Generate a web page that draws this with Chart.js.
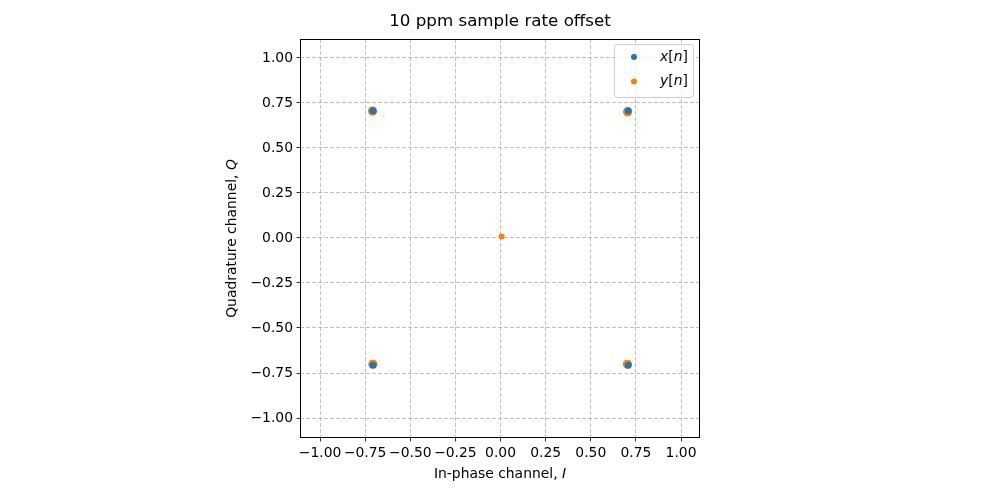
<!DOCTYPE html>
<html>
<head>
<meta charset="utf-8">
<script src="https://cdn.jsdelivr.net/npm/chart.js@4/dist/chart.umd.min.js"></script>
<style>
  html, body { margin: 0; padding: 0; background: #fff; }
  canvas { display: block; }
</style>
</head>
<body>
<canvas id="cvs" width="1000" height="500"></canvas>
<script>
/* data */
const xI = [-0.7071, 0.7071, -0.7071, 0.7071];
const xQ = [0.7071, 0.7071, -0.7071, -0.7071];

const yI = [
  -0.709, -0.700, -0.718, -0.7045, -0.7135, -0.7045, -0.7135,
   0.704,  0.713,  0.695,  0.7085,  0.6995,  0.7085,  0.6995,
  -0.707, -0.698, -0.716, -0.7025, -0.7115, -0.7025, -0.7115,
   0.703,  0.712,  0.694,  0.7075,  0.6985,  0.7075,  0.6985,
   0.006
];
const yQ = [
   0.705,  0.705,  0.705,  0.713,  0.713,  0.697,  0.697,
   0.701,  0.701,  0.701,  0.709,  0.709,  0.693,  0.693,
  -0.701, -0.701, -0.701, -0.693, -0.693, -0.709, -0.709,
  -0.701, -0.701, -0.701, -0.693, -0.693, -0.709, -0.709,
   0.008
];

const ticksI = [-1.00, -0.75, -0.50, -0.25, 0.00, 0.25, 0.50, 0.75, 1.00];
const ticksQ = [-1.00, -0.75, -0.50, -0.25, 0.00, 0.25, 0.50, 0.75, 1.00];

const titleText = '10 ppm sample rate offset';
// [text, italic]
const xTitle = [['In-phase channel, ', false], ['I', true]];
const yTitle = [['Quadrature channel, ', false], ['Q', true]];
const legendRows = [
  [['x', true], ['[', false], ['n', true], [']', false]],
  [['y', true], ['[', false], ['n', true], [']', false]]
];

/* helpers */
const FONT = '"DejaVu Sans", sans-serif';
const fmt = v => v.toFixed(2).replace('-', '\u2212');
const toPts = (a, b) => a.map((v, i) => ({ x: v, y: b[i] }));

const segWidth = (ctx, segs, size) => segs.reduce((w, [t, it]) => {
  ctx.font = `${it ? 'oblique ' : ''}${size}px ${FONT}`;
  return w + ctx.measureText(t).width;
}, 0);

const drawSegs = (ctx, segs, x, y, size) => {
  let cx = x;
  segs.forEach(([t, it]) => {
    ctx.font = `${it ? 'oblique ' : ''}${size}px ${FONT}`;
    ctx.fillText(t, cx, y);
    cx += ctx.measureText(t).width;
  });
};

const setTicks = vals => scale => { scale.ticks = vals.map(v => ({ value: v })); };

/* decorations: frame, titles, legend */
const decor = {
  id: 'decor',
  afterDatasetsDraw(chart) {
    const { ctx, chartArea: a } = chart;
    ctx.save();
    ctx.strokeStyle = '#000';
    ctx.lineWidth = 1;
    ctx.strokeRect(Math.round(a.left) + 0.5, Math.round(a.top) + 0.5,
      Math.round(a.right - a.left) - 1, Math.round(a.bottom - a.top) - 1);

    ctx.fillStyle = '#000';
    ctx.textBaseline = 'middle';
    ctx.textAlign = 'center';
    ctx.font = `16.7px ${FONT}`;
    ctx.fillText(titleText, (a.left + a.right) / 2, 22);

    ctx.textAlign = 'left';
    const fs = 13.9;
    let w = segWidth(ctx, xTitle, fs);
    drawSegs(ctx, xTitle, (a.left + a.right) / 2 - w / 2, 474, fs);

    ctx.save();
    ctx.translate(232, (a.top + a.bottom) / 2);
    ctx.rotate(-Math.PI / 2);
    w = segWidth(ctx, yTitle, fs);
    drawSegs(ctx, yTitle, -w / 2, 0, fs);
    ctx.restore();

    // legend
    const bx = 614, by = 44, bw = 79, bh = 53;
    ctx.beginPath();
    ctx.roundRect(bx + 0.5, by + 0.5, bw, bh, 3);
    ctx.fillStyle = 'rgba(255,255,255,0.8)';
    ctx.fill();
    ctx.strokeStyle = '#cccccc';
    ctx.stroke();
    legendRows.forEach((segs, i) => {
      const ry = 57 + i * 24.5;
      ctx.beginPath();
      ctx.arc(634, ry, 3, 0, Math.PI * 2);
      ctx.fillStyle = chart.data.datasets[i].backgroundColor;
      ctx.fill();
      ctx.fillStyle = '#000';
      drawSegs(ctx, segs, 660, ry, fs);
    });
    ctx.restore();
  }
};

const axisOpts = (vals, min, max) => ({
  type: 'linear', min, max,
  afterBuildTicks: setTicks(vals),
  grid: {
    color: '#b0b0b0', lineWidth: 0.8,
    tickColor: '#000', tickLength: 3.5, tickWidth: 0.8, tickBorderDash: []
  },
  border: { display: false, dash: [4, 2] },
  ticks: {
    color: '#000', padding: 3.5, autoSkip: false, maxRotation: 0,
    font: { family: FONT, size: 13.9 },
    callback: v => fmt(v)
  }
});

const xScale = axisOpts(ticksI, -1.111, 1.105);
xScale.afterFit = s => { s.height = 30; };
const yScale = axisOpts(ticksQ, -1.111, 1.105);
yScale.afterFit = s => { s.width = 50; };

new Chart(document.getElementById('cvs'), {
  type: 'scatter',
  data: {
    datasets: [
      { label: 'x[n]', data: toPts(xI, xQ), backgroundColor: '#1f77b4', borderWidth: 0, pointRadius: 3.5 },
      { label: 'y[n]', data: toPts(yI, yQ), backgroundColor: '#ff7f0e', borderWidth: 0, pointRadius: 3 }
    ]
  },
  options: {
    responsive: false, animation: false, devicePixelRatio: 1,
    layout: { padding: { left: 250, right: 300, top: 39, bottom: 32 } },
    plugins: { legend: { display: false }, tooltip: { enabled: false } },
    scales: { x: xScale, y: yScale }
  },
  plugins: [decor]
});
</script>
</body>
</html>
